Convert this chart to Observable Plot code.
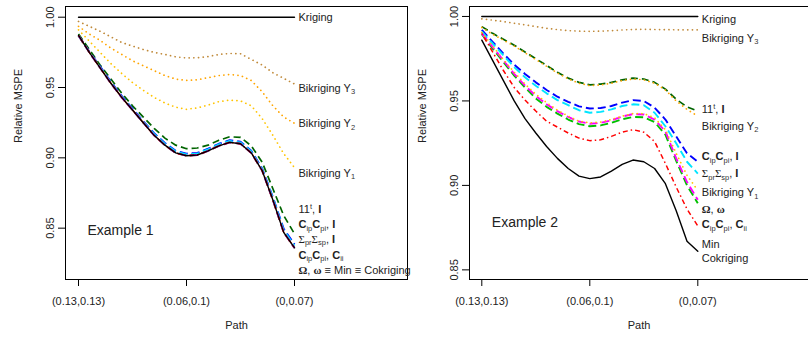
<!DOCTYPE html>
<html><head><meta charset="utf-8">
<script src="https://cdn.jsdelivr.net/npm/d3@7"></script>
<script src="https://cdn.jsdelivr.net/npm/@observablehq/plot@0.6"></script>
<style>
body{margin:0;background:white;}
#wrap{position:relative;width:808px;height:337px;overflow:hidden;background:white}
.p{position:absolute;top:0}
</style>
</head><body>
<div id="wrap"><div id="left" class="p" style="left:0"></div><div id="right" class="p" style="left:404px"></div></div>
<script>
// ---- data ----
const pathPos = [0,0.1,0.2,0.3,0.4,0.5,0.6,0.7,0.8,0.9,1,1.1,1.2,1.3,1.4,1.5,1.6,1.7,1.8,1.9,2];
const pathTicks = [0,1,2];
const pathTickLabels = ["(0.13,0.13)","(0.06,0.1)","(0,0.07)"];
const mspeTicks = [0.85,0.90,0.95,1.00];

// Example 1
const ex1Kriging = [1,1,1,1,1,1,1,1,1,1,1,1,1,1,1,1,1,1,1,1,1];
const ex1BikrigingY3 = [0.997,0.9935,0.990,0.986,0.982,0.9795,0.977,0.975,0.9735,0.9718,0.971,0.9712,0.972,0.9735,0.9742,0.974,0.970,0.966,0.9605,0.9565,0.9525];
const ex1BikrigingY2 = [0.9935,0.988,0.9835,0.978,0.9735,0.969,0.9655,0.962,0.9585,0.956,0.955,0.9555,0.957,0.9585,0.9593,0.9585,0.955,0.947,0.937,0.929,0.9245];
const ex1BikrigingY1 = [0.991,0.983,0.975,0.967,0.960,0.9535,0.948,0.943,0.939,0.936,0.9345,0.9355,0.9375,0.940,0.941,0.9405,0.937,0.928,0.916,0.903,0.893];
const ex1OneOneT = [0.988,0.977,0.966,0.956,0.946,0.937,0.929,0.921,0.914,0.909,0.9065,0.907,0.909,0.9125,0.915,0.9145,0.9085,0.897,0.878,0.859,0.846];
const ex1CipCpiI = [0.987,0.9755,0.965,0.954,0.944,0.935,0.926,0.9175,0.9105,0.905,0.903,0.9035,0.9065,0.910,0.9125,0.9115,0.905,0.8925,0.872,0.8495,0.8385];
const ex1SigmaI = [0.987,0.9753,0.9645,0.9535,0.9435,0.9345,0.9255,0.917,0.910,0.9045,0.9025,0.903,0.906,0.9095,0.912,0.911,0.9045,0.892,0.8715,0.8485,0.8375];
const ex1Green = [0.987,0.975,0.964,0.953,0.943,0.934,0.925,0.916,0.909,0.9035,0.9015,0.902,0.905,0.9085,0.911,0.910,0.9035,0.891,0.870,0.847,0.836];
const ex1Omega = [0.987,0.975,0.964,0.953,0.943,0.934,0.925,0.916,0.909,0.9035,0.9015,0.902,0.905,0.9085,0.911,0.910,0.9035,0.891,0.870,0.847,0.836];
const ex1CipCpiCii = [0.987,0.975,0.964,0.953,0.943,0.934,0.925,0.916,0.909,0.9035,0.9015,0.902,0.905,0.9085,0.911,0.910,0.9035,0.891,0.870,0.847,0.836];
const ex1Cokriging = [0.987,0.975,0.964,0.953,0.943,0.934,0.925,0.916,0.909,0.9035,0.9015,0.902,0.905,0.9085,0.911,0.910,0.9035,0.891,0.870,0.847,0.836];
const ex1LabelText = ["Kriging","Bikriging Y_{3}","Bikriging Y_{2}","Bikriging Y_{1}","11^{t}, *I*","*C*_{ip}*C*_{pi}, *I*","Σ_{pr}Σ_{sp}, *I*","*C*_{ip}*C*_{pi}, *C*_{ii}","*Ω*, *ω* ≡ Min ≡ Cokriging"];
const ex1LabelY = [1.000,0.9495,0.9242,0.8891,0.8631,0.8526,0.8422,0.8308,0.8199];

// Example 2
const ex2Kriging = [1,1,1,1,1,1,1,1,1,1,1,1,1,1,1,1,1,1,1,1,1];
const ex2BikrigingY3 = [0.9986,0.9978,0.997,0.996,0.995,0.994,0.993,0.9922,0.9916,0.9913,0.9912,0.9913,0.9916,0.992,0.9923,0.9924,0.9923,0.9922,0.9921,0.9921,0.9921];
const ex2OneOneT = [0.994,0.990,0.9865,0.983,0.979,0.975,0.971,0.967,0.9635,0.961,0.9595,0.960,0.961,0.9625,0.9635,0.963,0.961,0.957,0.951,0.9465,0.944];
const ex2BikrigingY2 = [0.9935,0.9895,0.986,0.9825,0.9785,0.9745,0.9705,0.9665,0.963,0.9605,0.959,0.9595,0.9605,0.962,0.963,0.9625,0.9605,0.9565,0.950,0.945,0.941];
const ex2CipCpiI = [0.992,0.985,0.978,0.9715,0.966,0.961,0.9565,0.9525,0.9495,0.9468,0.9455,0.9458,0.947,0.949,0.9505,0.950,0.946,0.939,0.929,0.919,0.914];
const ex2SigmaI = [0.991,0.984,0.977,0.970,0.964,0.959,0.9545,0.9505,0.9475,0.9445,0.943,0.9435,0.945,0.947,0.948,0.9475,0.943,0.935,0.925,0.914,0.907];
const ex2BikrigingY1 = [0.9905,0.9825,0.9745,0.967,0.960,0.954,0.949,0.9445,0.941,0.938,0.937,0.9375,0.939,0.941,0.9425,0.9425,0.940,0.933,0.919,0.906,0.897];
const ex2Omega = [0.990,0.982,0.974,0.966,0.959,0.953,0.948,0.944,0.9405,0.9378,0.9365,0.937,0.9385,0.9408,0.9422,0.942,0.939,0.932,0.916,0.902,0.8915];
const ex2Green = [0.9895,0.981,0.973,0.965,0.958,0.9515,0.9465,0.9425,0.939,0.9363,0.935,0.9355,0.937,0.9392,0.9405,0.9403,0.9375,0.930,0.9145,0.900,0.8895];
const ex2CipCpiCii = [0.990,0.979,0.968,0.958,0.9505,0.944,0.938,0.9345,0.931,0.928,0.9265,0.927,0.929,0.9315,0.933,0.9315,0.926,0.913,0.899,0.886,0.876];
const ex2Cokriging = [0.986,0.974,0.962,0.950,0.9395,0.931,0.923,0.916,0.910,0.9055,0.904,0.905,0.9085,0.9125,0.915,0.914,0.910,0.901,0.885,0.867,0.861];
const ex2LabelText = ["Kriging","Bikriging Y_{3}","11^{t}, *I*","Bikriging Y_{2}","*C*_{ip}*C*_{pi}, *I*","Σ_{pr}Σ_{sp}, *I*","Bikriging Y_{1}","*Ω*, *ω*","*C*_{ip}*C*_{pi}, *C*_{ii}","Min","Cokriging"];
const ex2LabelY = [0.998,0.9872,0.9449,0.9351,0.9171,0.9069,0.8956,0.8859,0.8767,0.8648,0.8565];

// ---- styles ----
const dash = {strokeLinecap:"butt", strokeLinejoin:"round"};
const dot = {strokeLinecap:"round", strokeDasharray:"0.1,4.6", strokeWidth:1.7};
const styles = {
  kriging:{stroke:"black", strokeWidth:1.4},
  oneT:{stroke:"#006400", strokeWidth:1.7, strokeDasharray:"7,4", ...dash},
  cipI:{stroke:"#0000ff", strokeWidth:1.9, strokeDasharray:"8,4", ...dash},
  sigI:{stroke:"#00e5ff", strokeWidth:1.9, strokeDasharray:"8,4", ...dash},
  green:{stroke:"#00c000", strokeWidth:1.9, strokeDasharray:"8,4", ...dash},
  omega:{stroke:"#ff00ff", strokeWidth:1.9, strokeDasharray:"8,4", ...dash},
  cipCii:{stroke:"#ff0000", strokeWidth:1.5, strokeDasharray:"1.5,3,5,3", ...dash},
  cok:{stroke:"black", strokeWidth:1.4},
  y1:{stroke:"#ffc400", ...dot},
  y2:{stroke:"#ffa500", ...dot},
  y3:{stroke:"#c08a3a", ...dot}
};

function rich(el, src) {
  const segs = [];
  let bold = false, i = 0, buf = "", bufGreek = false;
  const isGreek = c => /[\u0370-\u03ff]/.test(c);
  const flush = () => { if (buf) segs.push({t: buf, bold, greek: bufGreek, mode: "n"}); buf = ""; };
  while (i < src.length) {
    const c = src[i];
    if (c === "*") { flush(); bold = !bold; i++; continue; }
    if ((c === "_" || c === "^") && src[i+1] === "{") {
      flush();
      const j = src.indexOf("}", i);
      segs.push({t: src.slice(i+2, j), bold:false, greek:false, mode: c === "_" ? "sub" : "sup"});
      i = j + 1; continue;
    }
    const g = isGreek(c);
    if (buf && g !== bufGreek) flush();
    bufGreek = g; buf += c; i++;
  }
  flush();
  el.textContent = "";
  let cur = 0;
  for (const s of segs) {
    const ts = document.createElementNS("http://www.w3.org/2000/svg", "tspan");
    const target = s.mode === "sub" ? 2.5 : s.mode === "sup" ? -4 : 0;
    if (target !== cur) { ts.setAttribute("dy", target - cur); cur = target; }
    if (s.mode !== "n") { ts.setAttribute("font-size", "7.5"); ts.setAttribute("fill", "#333"); }
    if (s.bold) ts.setAttribute("font-weight", "bold");
    if (s.greek) ts.setAttribute("font-family", "'Liberation Serif', 'DejaVu Serif', serif");
    ts.textContent = s.t;
    el.appendChild(ts);
  }
}

function panel({width, marginRight, xDomain, yDomain, series, labelText, labelY, example, exampleX, exampleY}) {
  const lines = series.map(([key, vals]) =>
    Plot.line(pathPos.map((p, i) => ({x: p, y: vals[i]})), {x: "x", y: "y", ...styles[key]}));
  const labels = labelText.map((t, i) => ({x: pathPos[pathPos.length - 1], y: labelY[i], t}));
  const svg = Plot.plot({
    width, height: 337, marginTop: 6, marginBottom: 58, marginLeft: 65, marginRight,
    x: {domain: xDomain, label: null},
    y: {domain: yDomain, label: null},
    style: {fontFamily: "'Liberation Sans', Arial, sans-serif", fontSize: "11px", background: "transparent", overflow: "visible", color: "black"},
    marks: [
      Plot.frame({stroke: "black", strokeWidth: 1}),
      Plot.axisX({ticks: pathTicks, tickFormat: d => pathTickLabels[pathTicks.indexOf(d)], tickSize: 7, tickPadding: 11, label: null, fill: "#222"}),
      Plot.axisY({ticks: mspeTicks, tickFormat: d3.format(".2f"), tickSize: 7, tickRotate: -90, tickPadding: 5, label: null, fill: "#222"}),
      ...lines,
      Plot.text(labels, {x: "x", y: "y", text: "t", dx: 4, textAnchor: "start", lineAnchor: "middle", fill: "#222", fontSize: 11}),
      Plot.text([{x: exampleX, y: exampleY, t: example}], {x: "x", y: "y", text: "t", textAnchor: "start", fontSize: 14, fill: "#222"}),
      Plot.text(["Path"], {frameAnchor: "bottom", dy: 49, text: d => d, fill: "#222", fontSize: 11}),
      Plot.text(["Relative MSPE"], {frameAnchor: "left", dx: -47, rotate: -90, text: d => d, fill: "#222", fontSize: 11})
    ]
  });
  svg.querySelectorAll("text").forEach(el => {
    const s = el.textContent;
    if (/[*_^]/.test(s)) rich(el, s);
  });
  return svg;
}

document.getElementById("left").appendChild(panel({
  width: 410, marginRight: 3,
  xDomain: [-0.1204, 3.0463], yDomain: [0.8135, 1.0076],
  series: [["kriging", ex1Kriging], ["oneT", ex1OneOneT], ["cipI", ex1CipCpiI], ["sigI", ex1SigmaI],
           ["green", ex1Green], ["omega", ex1Omega], ["cipCii", ex1CipCpiCii], ["cok", ex1Cokriging],
           ["y1", ex1BikrigingY1], ["y2", ex1BikrigingY2], ["y3", ex1BikrigingY3]],
  labelText: ex1LabelText, labelY: ex1LabelY,
  example: "Example 1", exampleX: 0.083, exampleY: 0.8484
}));
document.getElementById("right").appendChild(panel({
  width: 404, marginRight: 0,
  xDomain: [-0.1139, 3.025], yDomain: [0.8443, 1.0059],
  series: [["kriging", ex2Kriging], ["oneT", ex2OneOneT], ["cipI", ex2CipCpiI], ["sigI", ex2SigmaI],
           ["green", ex2Green], ["omega", ex2Omega], ["cipCii", ex2CipCpiCii], ["cok", ex2Cokriging],
           ["y1", ex2BikrigingY1], ["y2", ex2BikrigingY2], ["y3", ex2BikrigingY3]],
  labelText: ex2LabelText, labelY: ex2LabelY,
  example: "Example 2", exampleX: 0.093, exampleY: 0.8782
}));
</script>
</body></html>
